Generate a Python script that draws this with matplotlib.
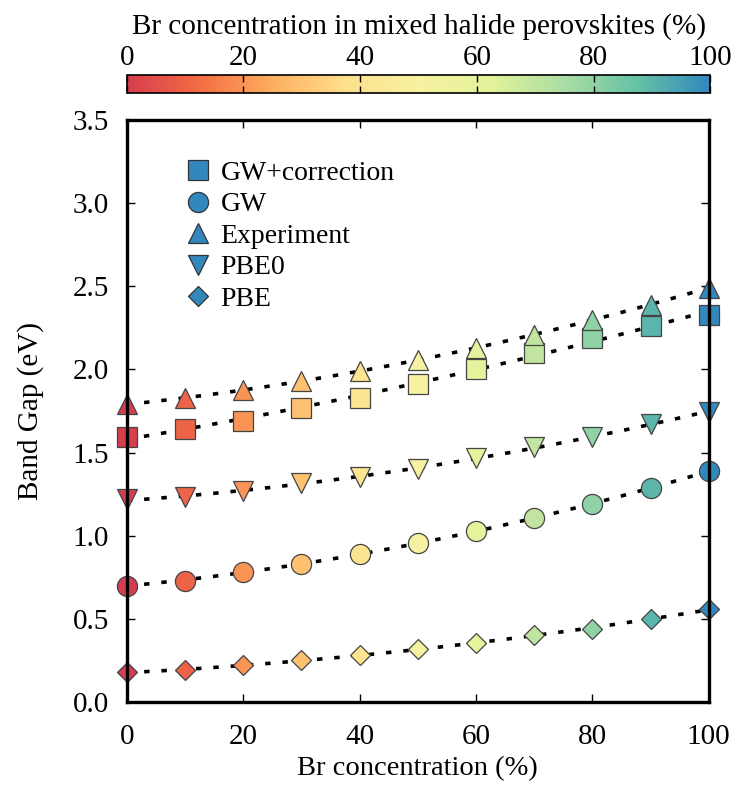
import numpy as np
import matplotlib.pyplot as plt
from matplotlib.colors import LinearSegmentedColormap, Normalize
import matplotlib.cm as cm

plt.rcParams['font.family'] = ['Liberation Serif', 'DejaVu Serif']
plt.rcParams['font.size'] = 21

# Br concentration (%)
br = [0, 10, 20, 30, 40, 50, 60, 70, 80, 90, 100]

# band gaps (eV)
gw_corr = [1.595, 1.64, 1.69, 1.77, 1.83, 1.91, 2.00, 2.10, 2.19, 2.26, 2.33]
gw = [0.70, 0.73, 0.78, 0.83, 0.89, 0.955, 1.03, 1.105, 1.19, 1.285, 1.39]
experiment = [1.79, 1.83, 1.875, 1.93, 1.99, 2.055, 2.13, 2.21, 2.30, 2.39, 2.49]
pbe0 = [1.22, 1.23, 1.27, 1.315, 1.355, 1.40, 1.47, 1.535, 1.595, 1.67, 1.745]
pbe = [0.18, 0.19, 0.22, 0.25, 0.28, 0.32, 0.357, 0.40, 0.44, 0.50, 0.557]

series = [
    ("GW+correction", gw_corr, 's', 14),
    ("GW", gw, 'o', 14.5),
    ("Experiment", experiment, '^', 14.5),
    ("PBE0", pbe0, 'v', 14.5),
    ("PBE", pbe, 'D', 10.5),
]

# spectral-like palette, red -> blue
spectral9 = ['#d53e4f', '#f46d43', '#fdae61', '#fee08b', '#f6f2a2',
             '#e3f29a', '#abdda4', '#66c2a5', '#3288bd']
cmap = LinearSegmentedColormap.from_list('spec9', spectral9)
norm = Normalize(0, 100)

fig = plt.figure(figsize=(7.46, 7.87), dpi=100)
ax = fig.add_axes([0.170, 0.108, 0.780, 0.7395])

x = np.array(br, dtype=float)
xfit = np.linspace(0, 100, 200)
for name, vals, mk, ms in series:
    p = np.polyfit(x, vals, 2)
    ax.plot(xfit, np.polyval(p, xfit), color='black', lw=2.6,
            linestyle=(0, (1.5, 3.3)), zorder=1)
    for xi, yi in zip(x, vals):
        ax.plot(xi, yi, marker=mk, ms=ms, color=cmap(norm(xi)),
                mec='#444444', mew=0.9, ls='none', clip_on=False, zorder=2)
    ax.plot([], [], marker=mk, ms=ms, color=cmap(1.0), mec='#333333',
            mew=0.9, ls='none', label=name)

ax.set_xlim(0, 100)
ax.set_ylim(0, 3.5)
ax.set_xticks([0, 20, 40, 60, 80, 100])
ax.set_yticks(np.arange(0, 3.51, 0.5))
ax.set_yticklabels([f'{v:.1f}' for v in np.arange(0, 3.51, 0.5)])
ax.tick_params(direction='in', length=6, width=1, top=True, right=True)
ax.tick_params(axis='x', pad=16)
ax.tick_params(axis='y', pad=13)
for s in ax.spines.values():
    s.set_linewidth(2.4)
    s.set_zorder(3)
ax.set_xlabel("Br concentration (%)", fontsize=20.5, labelpad=4)
ax.set_ylabel("Band Gap (eV)", labelpad=20)

ax.legend(loc='upper left', bbox_to_anchor=(0.08, 0.95), frameon=False,
          fontsize=20, handlelength=1.0, handletextpad=0.3,
          labelspacing=0.22, borderaxespad=0)

cax = fig.add_axes([0.170, 0.882, 0.782, 0.023])
sm = cm.ScalarMappable(norm=norm, cmap=cmap)
cb = fig.colorbar(sm, cax=cax, orientation='horizontal')
cb.set_ticks([0, 20, 40, 60, 80, 100])
cax.tick_params(direction='in', length=5, width=1, top=True, bottom=True,
                labeltop=True, labelbottom=False, pad=3)
cax.xaxis.set_label_position('top')
cb.set_label("Br concentration in mixed halide perovskites (%)", labelpad=8)
cb.outline.set_linewidth(1.2)

fig.savefig('out.png', dpi=100)
